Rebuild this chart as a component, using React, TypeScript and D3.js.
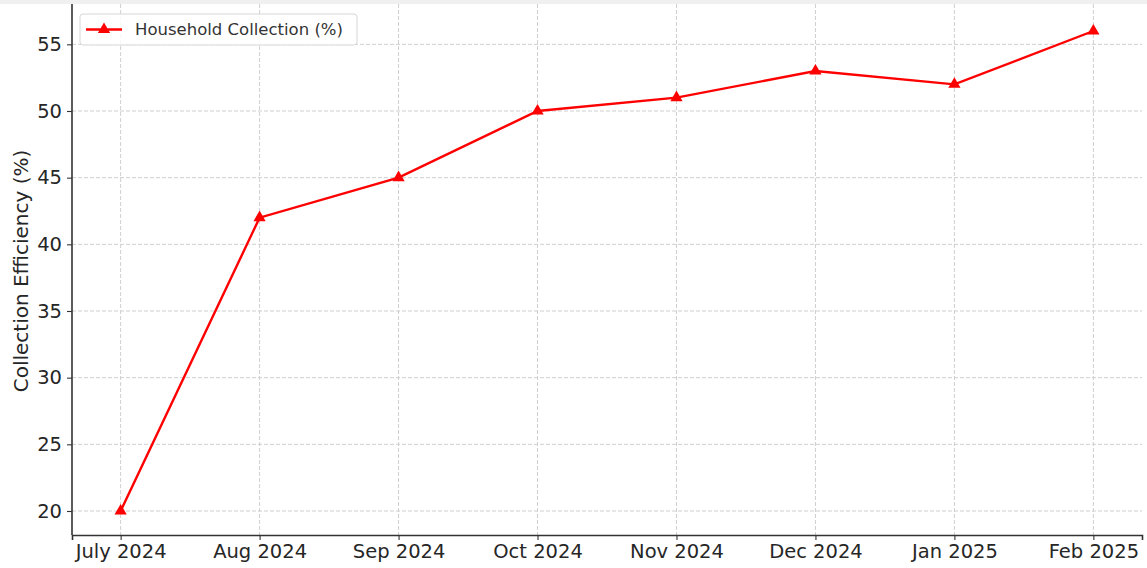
import * as d3 from 'd3';
import { useRef, useEffect } from 'react';

// Monthly household collection efficiency (%)
const months = ['July 2024', 'Aug 2024', 'Sep 2024', 'Oct 2024', 'Nov 2024', 'Dec 2024', 'Jan 2025', 'Feb 2025'];
const household = [20, 42, 45, 50, 51, 53, 52, 56];
const yTicks = [20, 25, 30, 35, 40, 45, 50, 55];
const seriesName = 'Household Collection (%)';

export default function App() {
    const ref = useRef<SVGSVGElement>(null);

    useEffect(() => {
        const width = 1147;
        const height = 568;
        const margin = { top: 7, right: 5, bottom: 33, left: 72 };
        const font = 'DejaVu Sans, sans-serif';

        const svg = d3.select(ref.current)
            .attr('width', width)
            .attr('height', height);
        svg.selectAll('*').remove();

        const n = months.length;
        const xScale = d3.scaleLinear()
            .domain([-0.35, n - 1 + 0.35])
            .range([margin.left, width - margin.right]);

        const span = d3.max(household) - d3.min(household);
        const yScale = d3.scaleLinear()
            .domain([d3.min(household) - span * 0.05, d3.max(household) + span * 0.05])
            .range([height - margin.bottom, margin.top]);

        // top strip (edge of cropped figure)
        svg.append('rect')
            .attr('x', 0).attr('y', 0)
            .attr('width', width).attr('height', 4)
            .attr('fill', '#f0f0f0');

        // grid
        const grid = svg.append('g')
            .attr('stroke', '#cfcfcf')
            .attr('stroke-width', 1)
            .attr('stroke-dasharray', '4,2');
        grid.selectAll('.vg')
            .data(months)
            .enter().append('line')
            .attr('x1', (d, i) => xScale(i)).attr('x2', (d, i) => xScale(i))
            .attr('y1', 4).attr('y2', height - margin.bottom);
        grid.selectAll('.hg')
            .data(yTicks)
            .enter().append('line')
            .attr('x1', margin.left).attr('x2', width - margin.right)
            .attr('y1', d => yScale(d)).attr('y2', d => yScale(d));

        // axes
        const xAxis = d3.axisBottom(xScale)
            .tickValues(d3.range(n))
            .tickFormat(i => months[i as number])
            .tickSizeOuter(0)
            .tickSize(5)
            .tickPadding(4);
        const yAxis = d3.axisLeft(yScale)
            .tickValues(yTicks)
            .tickSizeOuter(0)
            .tickSize(5)
            .tickPadding(5);

        const gx = svg.append('g')
            .attr('transform', `translate(0, ${height - margin.bottom})`)
            .call(xAxis);
        const gy = svg.append('g')
            .attr('transform', `translate(${margin.left}, 0)`)
            .call(yAxis);
        gy.select('.domain').attr('d', `M0,4V${height - margin.bottom}`);

        [gx, gy].forEach(g => {
            g.select('.domain').attr('stroke', '#333').attr('stroke-width', 1.6);
            g.selectAll('.tick line').attr('stroke', '#333').attr('stroke-width', 1.1);
            g.selectAll('.tick text')
                .attr('fill', '#262626')
                .style('font-family', font)
                .style('font-size', '19.5px');
        });

        // y label
        svg.append('text')
            .attr('transform', `translate(28, ${(margin.top + height - margin.bottom) / 2}) rotate(-90)`)
            .attr('text-anchor', 'middle')
            .attr('fill', '#262626')
            .style('font-family', font)
            .style('font-size', '20px')
            .text('Collection Efficiency (%)');

        // line
        const line = d3.line<number>()
            .x((d, i) => xScale(i))
            .y(d => yScale(d));
        svg.append('path')
            .datum(household)
            .attr('d', line)
            .attr('fill', 'none')
            .attr('stroke', '#ff0000')
            .attr('stroke-width', 2.4);

        const tri = d3.symbol().type(d3.symbolTriangle).size(65);
        svg.selectAll('.marker')
            .data(household)
            .enter().append('path')
            .attr('d', tri)
            .attr('transform', (d, i) => `translate(${xScale(i)}, ${yScale(d)})`)
            .attr('fill', '#ff0000');

        // legend
        const lg = svg.append('g').attr('transform', 'translate(80, 14)');
        lg.append('rect')
            .attr('width', 277).attr('height', 31)
            .attr('rx', 3)
            .attr('fill', 'white').attr('fill-opacity', 0.85)
            .attr('stroke', '#d6d6d6');
        lg.append('line')
            .attr('x1', 6).attr('x2', 42)
            .attr('y1', 15.5).attr('y2', 15.5)
            .attr('stroke', '#ff0000').attr('stroke-width', 2.4);
        lg.append('path')
            .attr('d', tri)
            .attr('transform', 'translate(24, 15.5)')
            .attr('fill', '#ff0000');
        lg.append('text')
            .attr('x', 55).attr('y', 15.5)
            .attr('dy', '0.35em')
            .attr('fill', '#333')
            .style('font-family', font)
            .style('font-size', '16.5px')
            .text(seriesName);
    }, []);

    return (
        <svg ref={ref} style={{ position: 'absolute', left: 0, top: 0, background: 'white' }}></svg>
    );
}
